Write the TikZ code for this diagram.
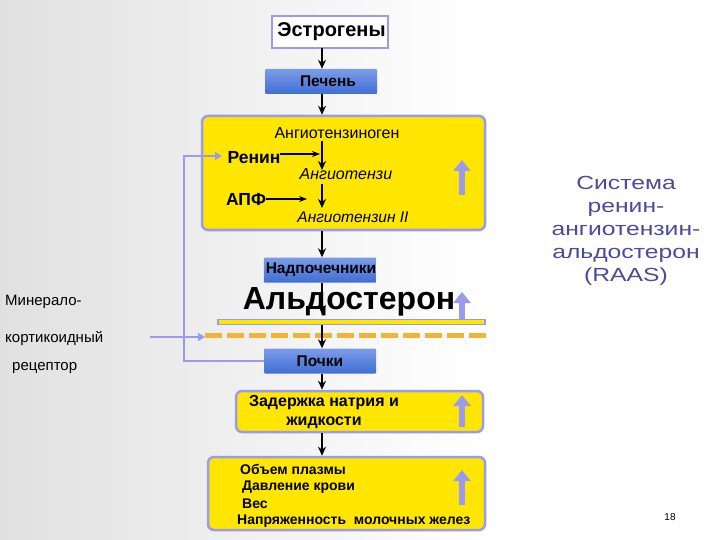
\documentclass[tikz,border=0pt]{standalone}
\usepackage{fontspec}
\setmainfont{Liberation Sans}
\usetikzlibrary{arrows.meta}
\definecolor{lav}{HTML}{9A9AEE}
\definecolor{yel}{HTML}{FFE600}
\definecolor{bluetop}{HTML}{7C9CE8}
\definecolor{bluebot}{HTML}{3F6ED4}
\definecolor{raas}{HTML}{4B4B9C}
\definecolor{dashc}{HTML}{F5B335}
\tikzset{
 yb/.style={draw=lav,line width=2.5pt,fill=yel,rounded corners=6pt},
 bb/.style={top color=bluetop,bottom color=bluebot,draw=none,rounded corners=1pt,minimum width=112pt,minimum height=25pt,inner sep=0pt,font=\fontsize{15.5}{16}\selectfont\bfseries},
 ar/.style={-{Stealth[length=9pt,width=8pt]},line width=2.6pt,black},
 thin ar/.style={-{Stealth[length=8pt,width=6pt]},line width=1.3pt,black},
 upar/.style={lav,line width=6pt,-{Triangle[length=11pt,width=17pt]}},
 fb/.style={lav,line width=2.2pt,-{Triangle[length=7pt,width=8pt]}},
 lbl/.style={inner sep=0pt,anchor=west,font=\fontsize{15}{16}\selectfont},
 bl/.style={inner sep=0pt,anchor=west,font=\fontsize{14}{15}\selectfont\bfseries},
}
\begin{document}
\begin{tikzpicture}[x=1pt,y=-1pt]
\useasboundingbox (0,0) rectangle (720,540);
\shade[left color=black!12,right color=white] (0,0) rectangle (480,540);
\fill[white] (480,0) rectangle (720,540);
% top
\node[draw=lav,line width=1.8pt,fill=white,minimum width=116pt,minimum height=32pt,inner sep=0pt,font=\fontsize{20}{21}\selectfont\bfseries] (est) at (330,32) {\hspace{3pt}Эстрогены};
\node[bb] (liv) at (321,81.5) {\hspace{14pt}Печень};
% box 1
\node[yb,minimum width=283pt,minimum height=114pt] (b1) at (343.5,173) {};
\node[inner sep=0pt,font=\fontsize{16}{17}\selectfont] (agen) at (337,133) {Ангиотензиноген};
\node[inner sep=0pt,font=\fontsize{17.5}{18}\selectfont\bfseries] (ren) at (254,158) {Ренин};
\node[inner sep=0pt,font=\fontsize{16}{17}\selectfont\itshape] (a1) at (346,174) {Ангиотензи};
\node[inner sep=0pt,font=\fontsize{17.5}{18}\selectfont\bfseries] (apf) at (246,199) {АПФ};
\node[inner sep=0pt,font=\fontsize{15.5}{17}\selectfont\itshape] (a2) at (353,217) {Ангиотензин II};
\coordinate (u1a) at (462,195); \coordinate (u1b) at (462,160);
\draw[upar] (u1a) -- (u1b);
% adrenal
\node[bb] (adr) at (320,270) {\hspace{2pt}Надпочечники};
\node[inner sep=0pt,font=\fontsize{32}{33}\selectfont\bfseries] (ald) at (349,302) {Альдостерон};
\draw[lav,line width=1.4pt,fill=yel] (218,319.5) rectangle (485,324.5);
\coordinate (u2a) at (462,320); \coordinate (u2b) at (462,292);
\draw[upar] (u2a) -- (u2b);
\coordinate (dl) at (205,335); \coordinate (dr) at (490,335);
\draw[dashc,line width=5pt,dash pattern=on 17pt off 5pt] (dl) -- (dr);
\node[bb] (kid) at (320,361) {Почки};
% box 2
\node[yb,minimum width=247pt,minimum height=41pt] (b2) at (359.5,411.5) {};
\node[inner sep=0pt,align=center,font=\fontsize{16}{19}\selectfont\bfseries] (ret) at (324,412) {Задержка натрия и\\жидкости};
\coordinate (u3a) at (462,427); \coordinate (u3b) at (462,395);
\draw[upar] (u3a) -- (u3b);
% box 3
\node[yb,minimum width=277pt,minimum height=73pt] (b3) at (346.5,493.5) {};
\node[bl] (t1) at (240,469) {Объем плазмы};
\node[bl] (t2) at (242,487) {Давление крови};
\node[bl] (t3) at (242,504) {Вес};
\node[bl] (t4) at (237,521) {Напряженность\ \ молочных желез};
\coordinate (u4a) at (462,505); \coordinate (u4b) at (462,470);
\draw[upar] (u4a) -- (u4b);
% main arrows
\draw[ar] (322,48) -- (liv.north -| 322,0);
\draw[ar] (322,94) -- (b1.north -| 322,0);
\draw[ar] (322,141) -- (322,170);
\draw[ar] (322,184) -- (322,208);
\coordinate (renr) at (280,154); \coordinate (rent) at (320,154);
\draw[thin ar] (renr) -- (rent);
\draw[thin ar] (apf.east) -- (307,199);
\draw[ar] (b1.south -| 322,0) -- (adr.north -| 322,0);
\draw[ar] (adr.south -| 322,0) -- (322,314);
\draw[ar] (322,325) -- (kid.north -| 322,0);
\draw[ar] (kid.south -| 322,0) -- (b2.north -| 322,0);
\draw[ar] (b2.south -| 322,0) -- (b3.north -| 322,0);
% left labels
\node[lbl] (m1) at (5,302) {Минерало-};
\node[lbl] (m2) at (5,338) {кортикоидный};
\node[lbl] (m3) at (12,368) {рецептор};
\coordinate (fbs) at (150,337);
\draw[fb] (fbs) -- (dl |- fbs);
\draw[fb] (kid.west) -- (184,361) -- (184,156) -- (222,156);
% right
\node[inner sep=0pt,align=center,text=raas,font=\fontsize{19}{23}\selectfont\addfontfeature{FakeStretch=1.3}] (raas) at (626,231) {Система\\ренин-\\ангиотензин-\\альдостерон\\(RAAS)};
\node[inner sep=0pt,font=\fontsize{10}{11}\selectfont] (pg) at (670,517) {18};
\end{tikzpicture}
\end{document}
